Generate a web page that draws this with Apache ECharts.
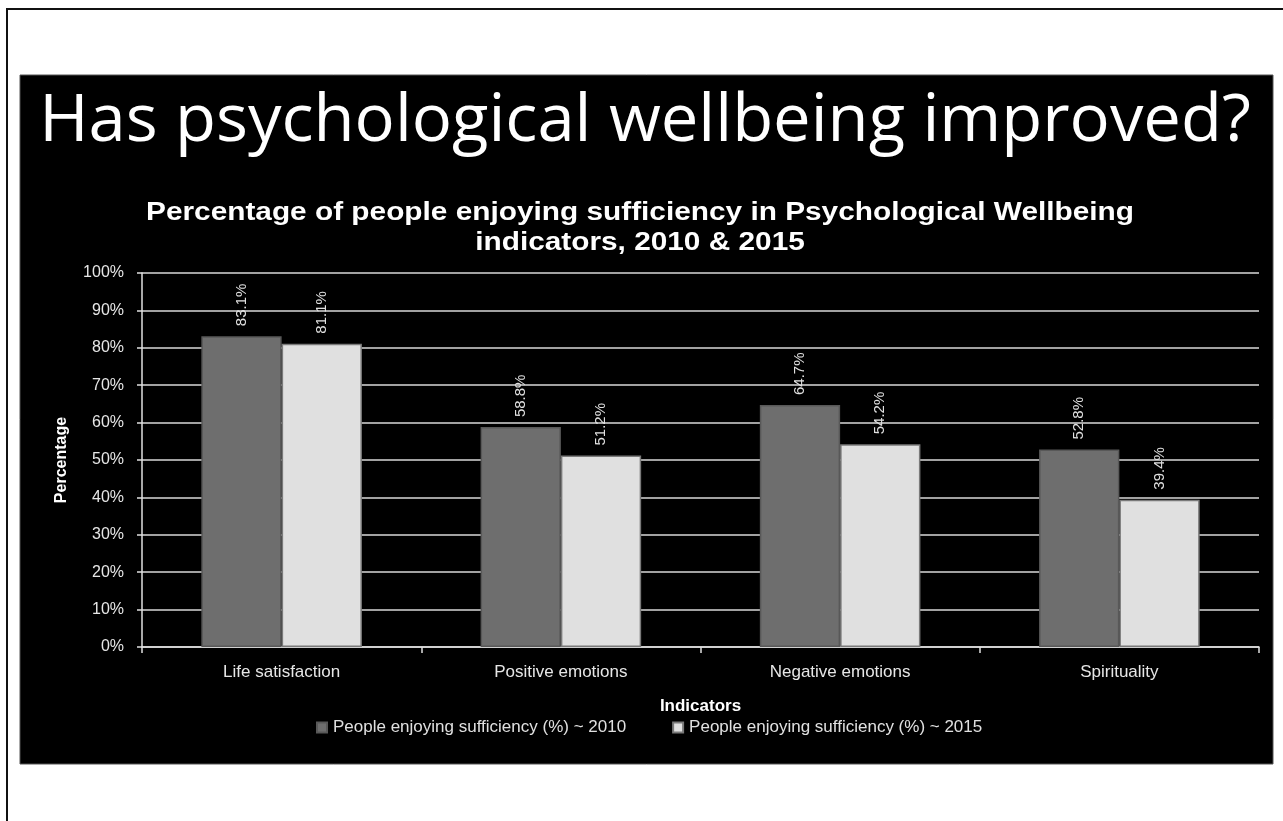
<!DOCTYPE html>
<html>
<head>
<meta charset="utf-8">
<script src="https://cdn.jsdelivr.net/npm/echarts@6/dist/echarts.min.js"></script>
<style>
html,body{margin:0;padding:0;background:#fff;}
#chart{width:1283px;height:821px;}
</style>
</head>
<body>
<div id="chart"></div>
<script>
const slideTitle = 'Has psychological wellbeing improved?';
const chartTitleLines = ['Percentage of people enjoying sufficiency in Psychological Wellbeing', 'indicators, 2010 & 2015'];
const categories = ['Life satisfaction', 'Positive emotions', 'Negative emotions', 'Spirituality'];
const seriesNames = ['People enjoying sufficiency (%) ~ 2010', 'People enjoying sufficiency (%) ~ 2015'];
const values2010 = [83.1, 58.8, 64.7, 52.8];
const values2015 = [81.1, 51.2, 54.2, 39.4];
const yTicks = [0, 10, 20, 30, 40, 50, 60, 70, 80, 90, 100];

const FONT = 'Liberation Sans, Arial, sans-serif';
const chart = echarts.init(document.getElementById('chart'));
const labelCfg = {
  show: true,
  position: 'top',
  rotate: 90,
  align: 'left',
  verticalAlign: 'middle',
  distance: 10,
  color: '#e0e0e0',
  fontFamily: FONT,
  fontSize: 15,
  formatter: p => p.value.toFixed(1) + '%'
};
chart.setOption({
  backgroundColor: '#ffffff',
  animation: false,
  graphic: [
    { type: 'rect', shape: { x: 7, y: 9, width: 1290, height: 830 }, style: { fill: '#fff', stroke: '#111', lineWidth: 2 }, z: -10 },
    { type: 'rect', shape: { x: 20, y: 75, width: 1253, height: 689 }, style: { fill: '#000', stroke: '#555', lineWidth: 1 }, z: -9 },
    { type: 'text', x: 645, y: 122, scaleX: 1.03,
      style: { text: slideTitle, textAlign: 'center', textVerticalAlign: 'middle', fill: '#ffffff',
        font: 'normal 65px "Open Sans", sans-serif' } },
    { type: 'text', x: 640, y: 213, scaleX: 1.146,
      style: { text: chartTitleLines[0], textAlign: 'center', textVerticalAlign: 'middle', fill: '#ffffff',
        font: 'bold 26px "Liberation Sans", Arial, sans-serif' } },
    { type: 'text', x: 640, y: 243, scaleX: 1.146,
      style: { text: chartTitleLines[1], textAlign: 'center', textVerticalAlign: 'middle', fill: '#ffffff',
        font: 'bold 26px "Liberation Sans", Arial, sans-serif' } }
  ],
  legend: {
    data: seriesNames,
    left: 311, top: 714,
    itemWidth: 10, itemHeight: 10,
    itemGap: 46,
    icon: 'rect',
    textStyle: { color: '#e0e0e0', fontFamily: FONT, fontSize: 17, padding: [0, 0, 0, 1] }
  },
  grid: { left: 142, right: 24, top: 273, bottom: 174, containLabel: false },
  xAxis: {
    type: 'category',
    data: categories,
    name: 'Indicators',
    nameLocation: 'middle',
    nameGap: 51,
    nameTextStyle: { color: '#ffffff', fontWeight: 'bold', fontSize: 17, fontFamily: FONT },
    axisLine: { lineStyle: { color: '#e0e0e0', width: 1.5 } },
    axisTick: { show: true, length: 6, lineStyle: { color: '#e0e0e0', width: 1.5 } },
    axisLabel: { color: '#e6e6e6', fontSize: 17, margin: 17, fontFamily: FONT }
  },
  yAxis: {
    type: 'value',
    min: 0, max: 100, interval: 10,
    name: 'Percentage',
    nameLocation: 'middle',
    nameGap: 72,
    nameTextStyle: { color: '#ffffff', fontWeight: 'bold', fontSize: 16, fontFamily: FONT },
    axisLine: { show: true, lineStyle: { color: '#e0e0e0', width: 1.5 } },
    axisTick: { show: true, length: 5, lineStyle: { color: '#e0e0e0', width: 1.5 } },
    axisLabel: { color: '#e6e6e6', fontSize: 16, margin: 18, fontFamily: FONT,
      formatter: v => yTicks.includes(v) ? v + '%' : '' },
    splitLine: { show: true, lineStyle: { color: '#d8d8d8', width: 1.5 } }
  },
  series: [
    {
      name: seriesNames[0], type: 'bar', data: values2010,
      barGap: '0%', barCategoryGap: '42.5%',
      itemStyle: { color: '#6e6e6e', borderColor: '#585858', borderWidth: 1.5 },
      label: labelCfg
    },
    {
      name: seriesNames[1], type: 'bar', data: values2015,
      itemStyle: { color: '#e0e0e0', borderColor: '#7a7a7a', borderWidth: 1.5 },
      label: labelCfg
    }
  ]
});
</script>
</body>
</html>
